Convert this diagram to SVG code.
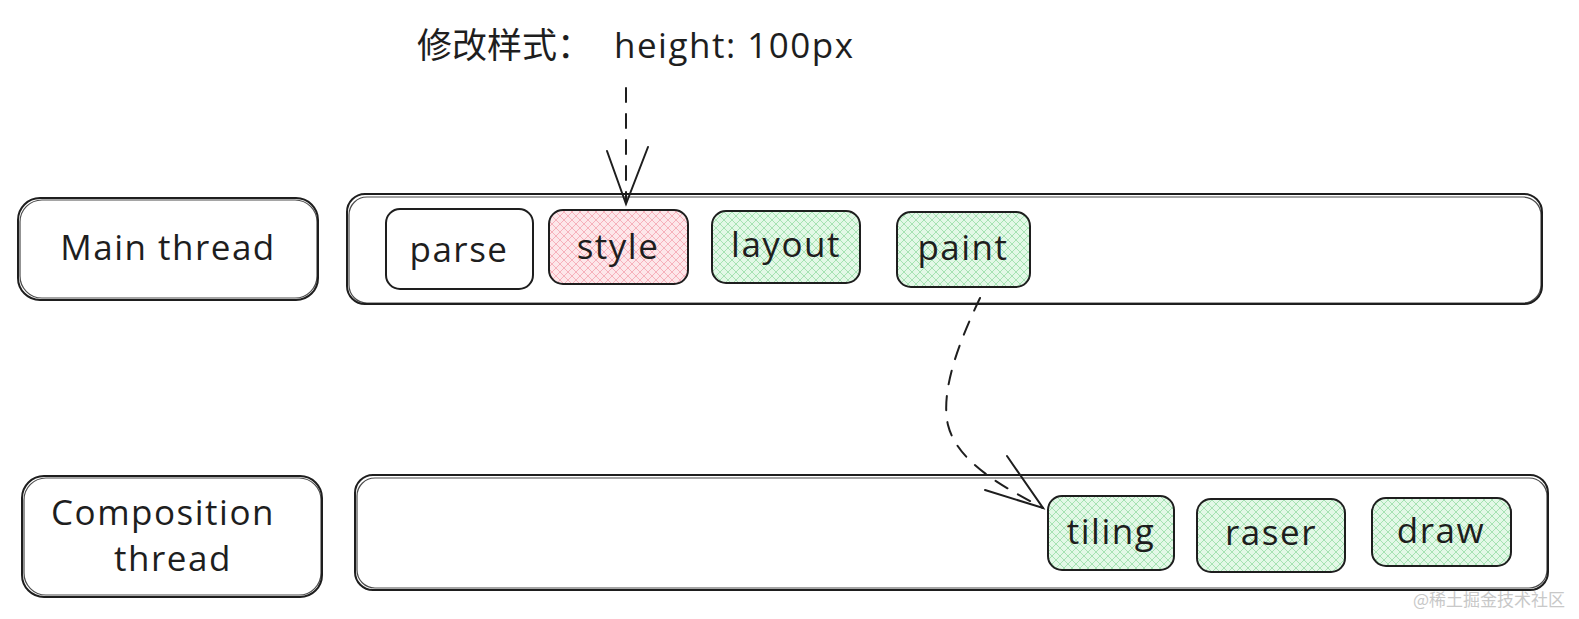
<svg xmlns="http://www.w3.org/2000/svg" width="1579" height="619" viewBox="0 0 1579 619">
<defs>
<pattern id="hatchG" width="8" height="8" patternUnits="userSpaceOnUse">
<rect width="8" height="8" fill="#e3f8e7"/>
<path d="M0,0 L8,8 M8,0 L0,8" stroke="#9fe0ad" stroke-width="0.9"/>
</pattern>
<pattern id="hatchR" width="8" height="8" patternUnits="userSpaceOnUse">
<rect width="8" height="8" fill="#fde7ea"/>
<path d="M0,0 L8,8 M8,0 L0,8" stroke="#f5aab5" stroke-width="0.9"/>
</pattern>
</defs>
<style>
.box{fill:none;stroke:#1e1e1e;stroke-width:2}
.box2{fill:none;stroke:#1e1e1e;stroke-width:1.2;opacity:0.8}
.lbl{font-family:"Open Sans","Liberation Sans",sans-serif;font-size:35px;font-weight:500;letter-spacing:1.5px;fill:#1e1e1e;text-anchor:middle}
.conn{fill:none;stroke:#1e1e1e;stroke-width:2;stroke-linecap:round}
.dash{stroke-dasharray:14 12}
</style>
<rect width="1579" height="619" fill="#ffffff"/>

<g id="title">
<text x="417" y="58" font-family="Noto Sans CJK SC, sans-serif" font-size="35" fill="#1e1e1e">修改样式：</text>
<text x="614" y="58" font-family="Open Sans, Liberation Sans, sans-serif" font-size="35" font-weight="500" letter-spacing="1.5" fill="#1e1e1e">height: 100px</text>
</g>

<g id="main-label">
<rect class="box" x="18" y="198" width="300" height="102" rx="22"/>
<rect class="box2" x="20" y="200" width="297" height="98" rx="22"/>
<text class="lbl" x="168" y="260">Main thread</text>
</g>

<g id="main-bar">
<rect class="box" x="347" y="194" width="1195" height="110" rx="18"/>
<rect class="box2" x="349" y="197" width="1192" height="106" rx="18"/>
</g>

<g id="parse">
<rect class="box" x="386" y="209" width="147" height="80" rx="14"/>
<text class="lbl" x="459" y="262">parse</text>
</g>
<g id="style-node">
<rect x="549" y="210" width="139" height="74" rx="14" fill="url(#hatchR)" stroke="#1e1e1e" stroke-width="2"/>
<text class="lbl" x="618" y="259">style</text>
</g>
<g id="layout">
<rect x="712" y="211" width="148" height="72" rx="14" fill="url(#hatchG)" stroke="#1e1e1e" stroke-width="2"/>
<text class="lbl" x="786" y="257">layout</text>
</g>
<g id="paint">
<rect x="897" y="212" width="133" height="75" rx="14" fill="url(#hatchG)" stroke="#1e1e1e" stroke-width="2"/>
<text class="lbl" x="963" y="260">paint</text>
</g>

<g id="comp-label">
<rect class="box" x="22" y="476" width="300" height="121" rx="22"/>
<rect class="box2" x="24" y="478" width="297" height="117" rx="22"/>
<text class="lbl" x="163" y="525">Composition</text>
<text class="lbl" x="173" y="571">thread</text>
</g>

<g id="comp-bar">
<rect class="box" x="355" y="475" width="1193" height="115" rx="18"/>
<rect class="box2" x="357" y="478" width="1190" height="110" rx="18"/>
</g>

<g id="tiling">
<rect x="1048" y="496" width="126" height="74" rx="14" fill="url(#hatchG)" stroke="#1e1e1e" stroke-width="2"/>
<text class="lbl" x="1111" y="544">tiling</text>
</g>
<g id="raser">
<rect x="1197" y="499" width="148" height="73" rx="14" fill="url(#hatchG)" stroke="#1e1e1e" stroke-width="2"/>
<text class="lbl" x="1271" y="545">raser</text>
</g>
<g id="draw">
<rect x="1372" y="498" width="139" height="68" rx="14" fill="url(#hatchG)" stroke="#1e1e1e" stroke-width="2"/>
<text class="lbl" x="1441" y="543">draw</text>
</g>

<g id="connectors">
<path class="conn dash" d="M626,88 L626,203"/>
<path class="conn" d="M607,151 L626,204 L648,147"/>
<path class="conn dash" d="M980,298 C960,340 940,390 948,425 C958,465 1010,490 1043,508"/>
<path class="conn" d="M985,490 L1043,508 L1007,456"/>
</g>

<text x="1565" y="606" text-anchor="end" font-family="Noto Sans CJK SC, sans-serif" font-size="17" fill="#c8c8c8">@稀土掘金技术社区</text>
</svg>
